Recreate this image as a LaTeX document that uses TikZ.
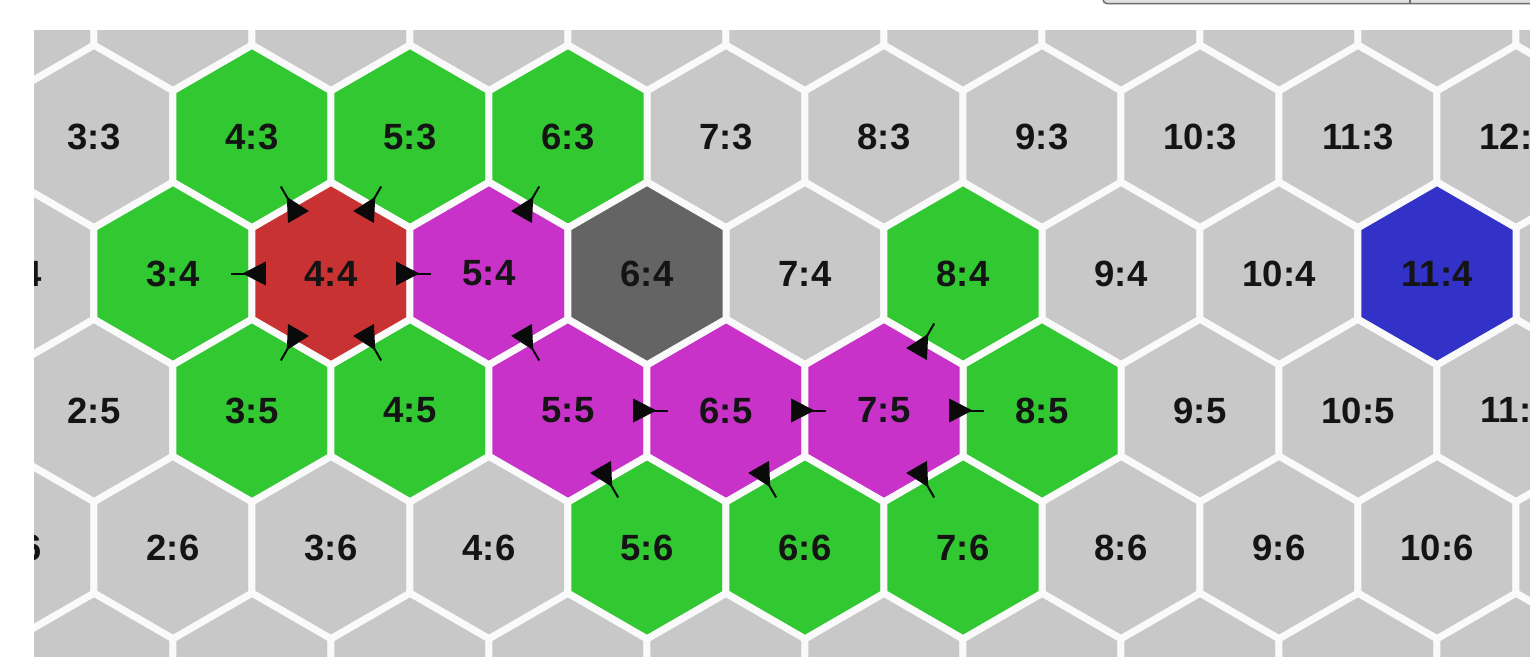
\documentclass[tikz,border=0pt]{standalone}
\usepackage{fontspec}
\setmainfont{Liberation Sans}
\usetikzlibrary{calc}
\definecolor{cellgray}{RGB}{200,200,200}
\definecolor{cellgreen}{RGB}{50,200,50}
\definecolor{cellred}{RGB}{200,50,50}
\definecolor{cellmag}{RGB}{200,50,200}
\definecolor{celldark}{RGB}{100,100,100}
\definecolor{cellblue}{RGB}{50,50,200}
\definecolor{cellline}{RGB}{250,250,250}
\definecolor{labeltext}{RGB}{20,20,20}
\definecolor{arrowblack}{RGB}{10,10,10}
\definecolor{panelfill}{RGB}{225,225,225}
\definecolor{panelline}{RGB}{110,110,110}
\tikzset{
  cell/.style={line width=7pt, draw=cellline, line join=miter},
  celllabel/.style={font=\fontsize{36.5}{40}\selectfont\bfseries, text=labeltext, inner sep=0pt},
  arrowhead/.style={fill=arrowblack},
  arrowstem/.style={draw=arrowblack, line width=2pt},
  panel/.style={draw=panelline, fill=panelfill, line width=1.5pt, rounded corners=4pt},
}
\newcommand\hexcell[3]{%
  \filldraw[cell, fill=#3] (#1,#2) +(30:91.3) -- +(90:91.3) -- +(150:91.3) -- +(210:91.3) -- +(270:91.3) -- +(330:91.3) -- cycle;}
\newcommand\flowarrow[2]{%
  \coordinate (B) at ($(#1.center)!0.412!(#2.center)$);
  \coordinate (T) at ($(#1.center)!0.56!(#2.center)$);
  \coordinate (E) at ($(#1.center)!0.635!(#2.center)$);
  \fill[arrowhead] (T) -- ($(B)!12pt!90:(T)$) -- ($(B)!12pt!-90:(T)$) -- cycle;
  \draw[arrowstem] (B) -- (E);}
\begin{document}
\begin{tikzpicture}[x=1pt,y=-1pt]
\useasboundingbox[fill=white] (0,0) rectangle (1530,656);
% panel at the top right
\draw[panel] (1103,-20) rectangle (1560,3.5);
\draw[panelline, line width=1.5pt] (1410,-20) -- (1410,3.5);
\begin{scope}
  \clip (34,30) rectangle (1530,656);
  \foreach \hr in {2,...,7}{
    \foreach \hc in {0,...,13}{
      \pgfmathsetmacro\hx{94+(\hc-3)*158+(\hr-3)*79}
      \pgfmathsetmacro\hy{136.5+(\hr-3)*137}
      \hexcell{\hx}{\hy}{cellgray}
    }
  }
  \foreach \hc/\hr/\hcol in {4/3/cellgreen,5/3/cellgreen,6/3/cellgreen,3/4/cellgreen,8/4/cellgreen,
      3/5/cellgreen,4/5/cellgreen,8/5/cellgreen,5/6/cellgreen,6/6/cellgreen,7/6/cellgreen,
      4/4/cellred,5/4/cellmag,5/5/cellmag,6/5/cellmag,7/5/cellmag,6/4/celldark,11/4/cellblue}{
      \pgfmathsetmacro\hx{94+(\hc-3)*158+(\hr-3)*79}
      \pgfmathsetmacro\hy{136.5+(\hr-3)*137}
      \hexcell{\hx}{\hy}{\hcol}
  }
  \foreach \hr/\cmin/\cmax in {3/3/12,4/2/11,5/2/11,6/1/10}{
    \foreach \hc in {\cmin,...,\cmax}{
      \pgfmathsetmacro\hx{94+(\hc-3)*158+(\hr-3)*79}
      \pgfmathsetmacro\hy{136.5+(\hr-3)*137}
      \node[celllabel] (l-\hc-\hr) at (\hx,\hy) {\hc:\hr};
    }
  }
  \flowarrow{l-4-4}{l-4-3}
  \flowarrow{l-4-4}{l-5-3}
  \flowarrow{l-4-4}{l-3-4}
  \flowarrow{l-4-4}{l-5-4}
  \flowarrow{l-4-4}{l-3-5}
  \flowarrow{l-4-4}{l-4-5}
  \flowarrow{l-5-4}{l-6-3}
  \flowarrow{l-5-4}{l-5-5}
  \flowarrow{l-5-5}{l-6-5}
  \flowarrow{l-5-5}{l-5-6}
  \flowarrow{l-6-5}{l-7-5}
  \flowarrow{l-6-5}{l-6-6}
  \flowarrow{l-7-5}{l-8-4}
  \flowarrow{l-7-5}{l-8-5}
  \flowarrow{l-7-5}{l-7-6}
\end{scope}
\end{tikzpicture}
\end{document}
